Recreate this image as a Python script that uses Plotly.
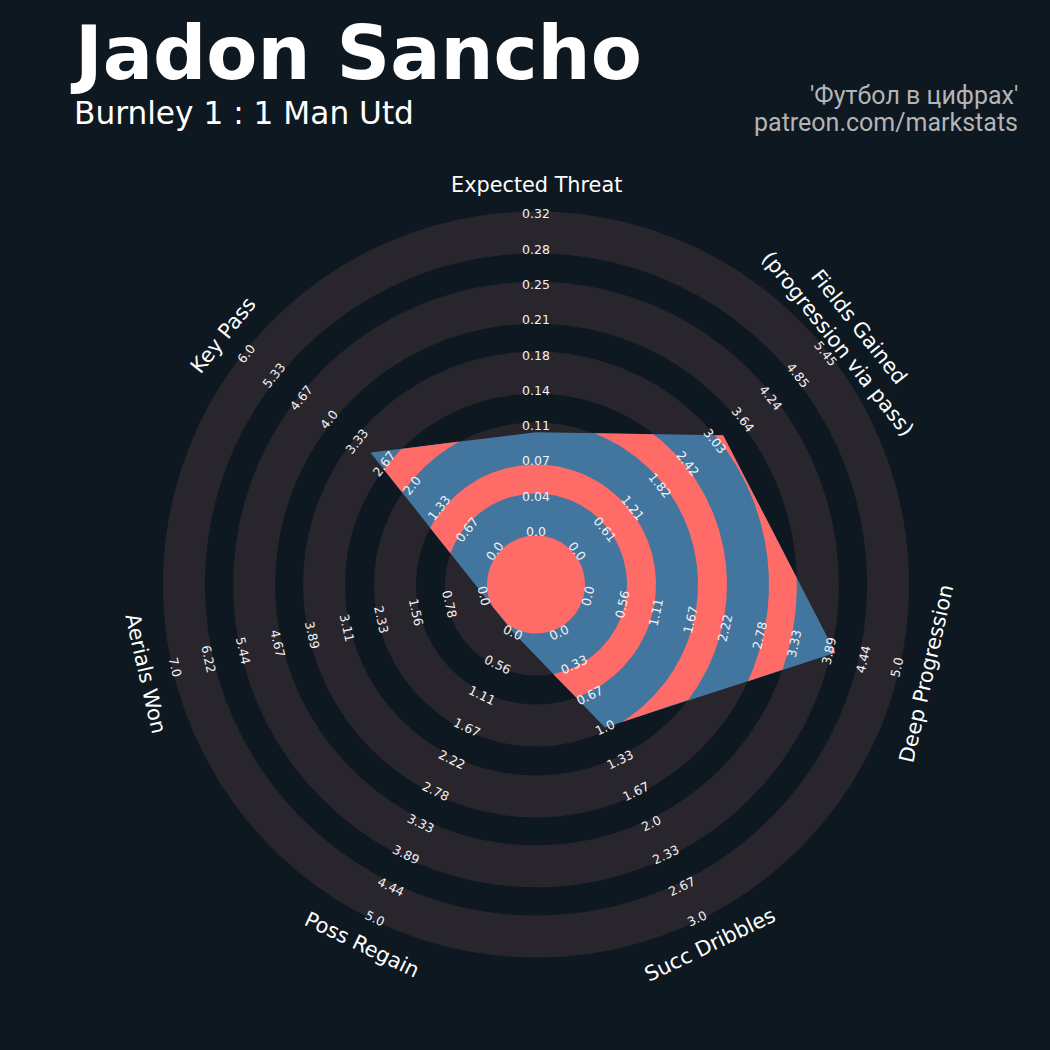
import numpy as np
import plotly.graph_objects as go

# ---------------- data ----------------
params = ["Expected Threat", "Fields Gained<br>(progression via pass)", "Deep Progression",
          "Succ Dribbles", "Poss Regain", "Aerials Won", "Key Pass"]
low = [0.0, 0.0, 0.0, 0.0, 0.0, 0.0, 0.0]
high = [0.32, 5.4545, 5.0, 3.0, 5.0, 7.0, 6.0]
values = [0.10, 3.2, 4.0, 1.0, 0.0, 0.0, 3.0]

tick_xt = ["0.0", "0.04", "0.07", "0.11", "0.14", "0.18", "0.21", "0.25", "0.28", "0.32"]
tick_fg = ["0.0", "0.61", "1.21", "1.82", "2.42", "3.03", "3.64", "4.24", "4.85", "5.45"]
tick_dp = ["0.0", "0.56", "1.11", "1.67", "2.22", "2.78", "3.33", "3.89", "4.44", "5.0"]
tick_sd = ["0.0", "0.33", "0.67", "1.0", "1.33", "1.67", "2.0", "2.33", "2.67", "3.0"]
tick_pr = ["0.0", "0.56", "1.11", "1.67", "2.22", "2.78", "3.33", "3.89", "4.44", "5.0"]
tick_aw = ["0.0", "0.78", "1.56", "2.33", "3.11", "3.89", "4.67", "5.44", "6.22", "7.0"]
tick_kp = ["0.0", "0.67", "1.33", "2.0", "2.67", "3.33", "4.0", "4.67", "5.33", "6.0"]
tick_labels = [tick_xt, tick_fg, tick_dp, tick_sd, tick_pr, tick_aw, tick_kp]

title = "Jadon Sancho"
subtitle = "Burnley 1 : 1 Man Utd"
credit1 = "'Футбол в цифрах'"
credit2 = "patreon.com/markstats"

# ---------------- style / geometry ----------------
BG = "#0e1820"
RING = "#28252c"
BLUE = "#43769f"
RED = "#ff6b67"
TXT = "#ffffff"

PX = 35.3          # pixels per ring unit
CX, CY = 536.0, 584.5
R0 = 1.5           # radius of minimum value
NSTEP = 9          # ring steps to max value
CENTER_R = 1.39
grey_bands = [(0.0, 2.58), (3.40, 4.59), (5.41, 6.60), (7.39, 8.58), (9.38, 10.57)]
red_bands = [(0.0, CENTER_R), (2.58, 3.40), (4.59, 5.41), (6.60, 7.39), (8.58, 9.38)]
LABEL_R = 11.33

n = len(params)
angles = np.deg2rad(90 - np.arange(n) * 360.0 / n)

rad = np.array([R0 + NSTEP * (v - lo) / (hi - lo) for v, lo, hi in zip(values, low, high)])
vx = rad * np.cos(angles)
vy = rad * np.sin(angles)

phis = np.unique(np.concatenate([np.linspace(0, 2 * np.pi, 2161)[:-1], np.mod(angles, 2 * np.pi)]))


def poly_radius(ph):
    dx, dy = np.cos(ph), np.sin(ph)
    R = np.full(ph.shape, np.inf)
    for i in range(n):
        ax, ay = vx[i], vy[i]
        bx, by = vx[(i + 1) % n], vy[(i + 1) % n]
        ex, ey = bx - ax, by - ay
        det = -dx * ey + ex * dy
        with np.errstate(divide="ignore", invalid="ignore"):
            t = (-ax * ey + ex * ay) / det
            s = (dx * ay - dy * ax) / det
        ok = (np.abs(det) > 1e-12) & (s >= -1e-9) & (s <= 1 + 1e-9) & (t > 0)
        R = np.where(ok, np.minimum(R, t), R)
    return R


RP = poly_radius(phis)


def ring_path(r_in, r_out):
    ph = np.append(phis, 2 * np.pi)
    x = list(r_out * np.cos(ph))
    y = list(r_out * np.sin(ph))
    if r_in > 0:
        x += list(r_in * np.cos(ph[::-1]))
        y += list(r_in * np.sin(ph[::-1]))
    x.append(x[0])
    y.append(y[0])
    return x, y


def clipped_path(r_in, r_out):
    outer = np.minimum(r_out, RP)
    if r_in <= 0:
        ph = np.append(phis, 2 * np.pi)
        o = np.append(outer, outer[0])
        x = list(o * np.cos(ph)) + [o[0] * np.cos(ph[0])]
        y = list(o * np.sin(ph)) + [o[0] * np.sin(ph[0])]
        return x, y
    mask = RP > r_in + 1e-6
    if mask.all():
        ph = np.append(phis, 2 * np.pi)
        o = np.append(outer, outer[0])
        x = list(o * np.cos(ph)) + list(r_in * np.cos(ph[::-1]))
        y = list(o * np.sin(ph)) + list(r_in * np.sin(ph[::-1]))
        x.append(x[0]); y.append(y[0])
        return x, y
    if not mask.any():
        return [], []
    m = len(phis)
    start = int(np.argmin(mask))  # a False index
    order = (np.arange(m) + start) % m
    xs, ys = [], []
    run = []
    for idx in list(order) + [order[0]]:
        if mask[idx]:
            run.append(idx)
        elif run:
            ph = np.unwrap(phis[run])
            o = outer[run]
            px = list(o * np.cos(ph)) + list(r_in * np.cos(ph[::-1]))
            py = list(o * np.sin(ph)) + list(r_in * np.sin(ph[::-1]))
            px.append(px[0]); py.append(py[0])
            if xs:
                xs.append(None); ys.append(None)
            xs += px; ys += py
            run = []
    return xs, ys


fig = go.Figure()

for r1, r2 in grey_bands:
    x, y = ring_path(r1, r2)
    fig.add_trace(go.Scatter(x=x, y=y, mode="lines", fill="toself", fillcolor=RING,
                             line=dict(width=0), hoverinfo="skip", showlegend=False))

fig.add_trace(go.Scatter(x=list(vx) + [vx[0]], y=list(vy) + [vy[0]], mode="lines", fill="toself",
                         fillcolor=BLUE, line=dict(width=0), hoverinfo="skip", showlegend=False))

for r1, r2 in red_bands:
    x, y = clipped_path(r1, r2)
    if not x:
        continue
    fig.add_trace(go.Scatter(x=x, y=y, mode="lines", fill="toself", fillcolor=RED,
                             line=dict(width=0), hoverinfo="skip", showlegend=False))

annotations = []
for i in range(n):
    th = angles[i]
    rot = np.rad2deg(th) - 90
    rot = (rot + 180) % 360 - 180
    if rot < -90:
        rot += 180
    elif rot > 90:
        rot -= 180
    for k, lab in enumerate(tick_labels[i]):
        r = R0 + k
        annotations.append(dict(x=r * np.cos(th), y=r * np.sin(th), xref="x", yref="y",
                                text=lab, showarrow=False, textangle=-rot,
                                xanchor="center", yanchor="middle",
                                font=dict(family="DejaVu Sans", size=12.5, color="#f2f2f2")))
    annotations.append(dict(x=LABEL_R * np.cos(th), y=LABEL_R * np.sin(th), xref="x", yref="y",
                            text=params[i], showarrow=False, textangle=-rot,
                            xanchor="center", yanchor="middle",
                            font=dict(family="DejaVu Sans", size=20.8, color=TXT)))

W = 1050.0
annotations.append(dict(x=68 / W, y=1 - 54 / W, xref="paper", yref="paper", text="<b>" + title + "</b>",
                        showarrow=False, xanchor="left", yanchor="middle",
                        font=dict(family="DejaVu Sans", size=74.5, color=TXT)))
annotations.append(dict(x=72 / W, y=1 - 113 / W, xref="paper", yref="paper", text=subtitle,
                        showarrow=False, xanchor="left", yanchor="middle",
                        font=dict(family="DejaVu Sans", size=31.2, color=TXT)))
annotations.append(dict(x=1020 / W, y=1 - 96 / W, xref="paper", yref="paper", text=credit1,
                        showarrow=False, xanchor="right", yanchor="middle",
                        font=dict(family="Roboto", size=25, color="#b4b4b4")))
annotations.append(dict(x=1020 / W, y=1 - 123 / W, xref="paper", yref="paper", text=credit2,
                        showarrow=False, xanchor="right", yanchor="middle",
                        font=dict(family="Roboto", size=25, color="#b4b4b4")))

fig.update_layout(
    width=1050, height=1050,
    margin=dict(l=0, r=0, t=0, b=0),
    paper_bgcolor=BG, plot_bgcolor=BG,
    xaxis=dict(range=[-CX / PX, (W - CX) / PX], visible=False, showgrid=False, zeroline=False, fixedrange=True),
    yaxis=dict(range=[-(W - CY) / PX, CY / PX], visible=False, showgrid=False, zeroline=False, fixedrange=True),
    annotations=annotations,
    showlegend=False,
)

fig.write_html("out.html", config={"displayModeBar": False},
               post_script="document.body.style.margin='0';")
